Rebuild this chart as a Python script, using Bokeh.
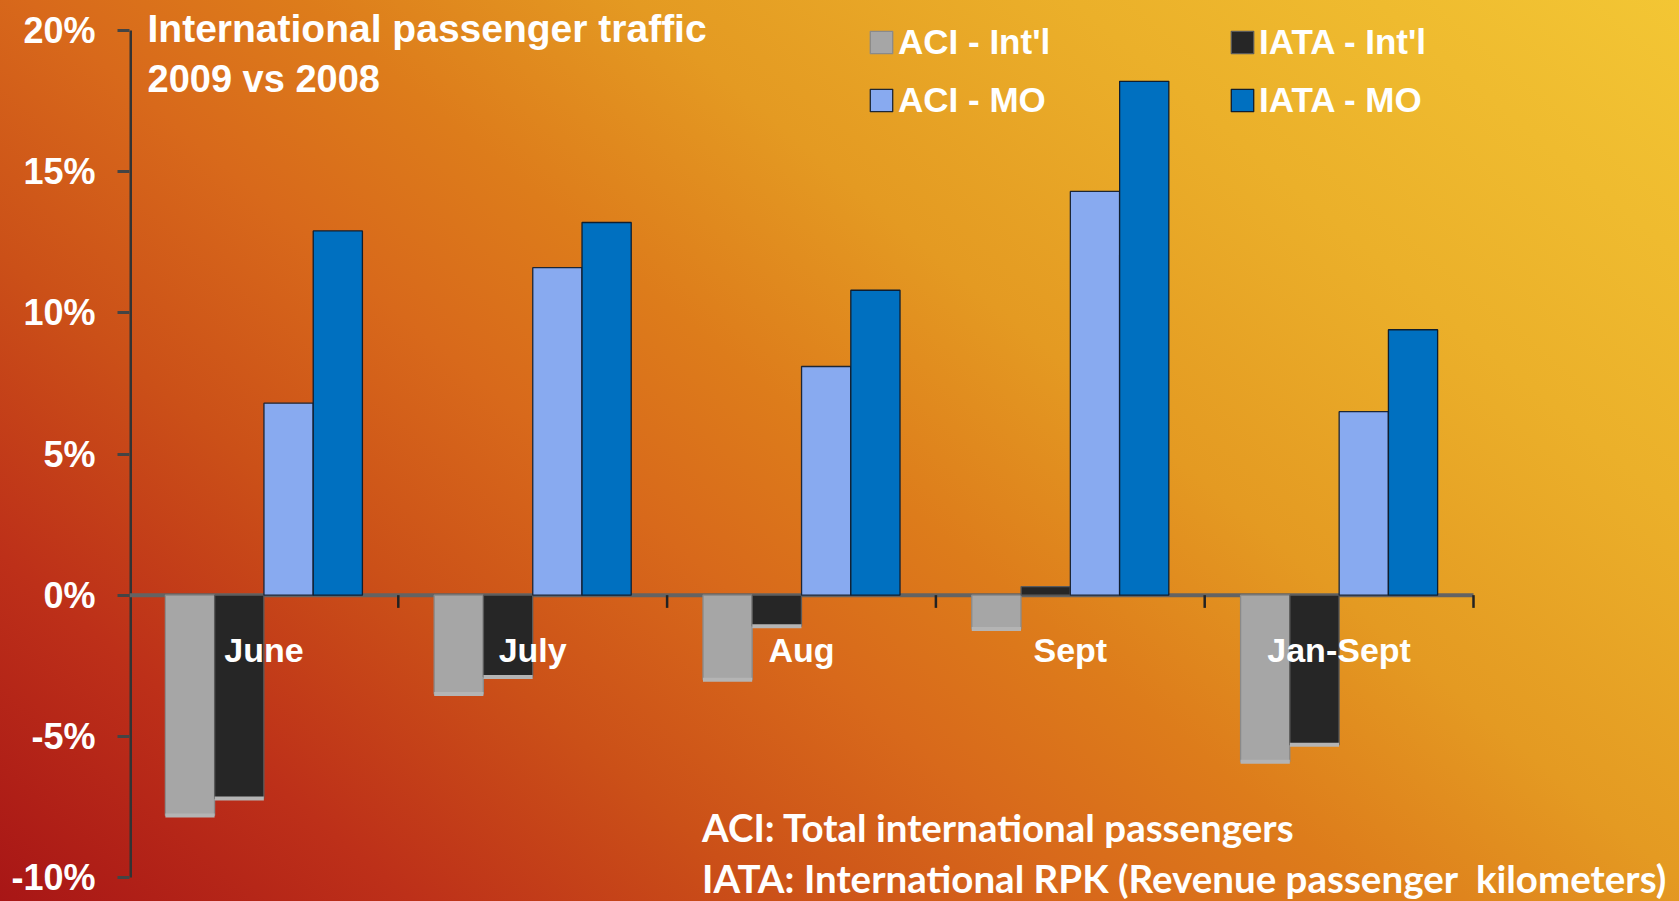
from bokeh.plotting import figure
from bokeh.models import (Range1d, FixedTicker, PrintfTickFormatter,
                          Label, Legend, LegendItem, ColumnDataSource)
from bokeh.core.properties import value
from bokeh.embed import file_html
from bokeh.resources import INLINE

# ---- data ----
categories = ["June", "July", "Aug", "Sept", "Jan-Sept"]
aci_intl = [-7.8, -3.5, -3.0, -1.2, -5.9]
iata_intl = [-7.2, -2.9, -1.1, 0.3, -5.3]
aci_mo = [6.8, 11.6, 8.1, 14.3, 6.5]
iata_mo = [12.9, 13.2, 10.8, 18.2, 9.4]
y_ticks = [-10, -5, 0, 5, 10, 15, 20]
series_names = ["ACI - Int'l", "IATA - Int'l", "ACI - MO", "IATA - MO"]
title_lines = ["International passenger traffic", "2009 vs 2008"]
notes = ["ACI: Total international passengers",
         "IATA: International RPK (Revenue passenger\u00a0 kilometers)"]

# ---- layout (pixels) ----
W, H = 1679, 901
AX_LEFT = 129          # y-axis position
CAT_W = 268.8          # pixels per category
Y_TOP_PX, Y_BOT_PX = 30, 877   # pixel rows of 20% and -10%
Y_MIN, Y_MAX = min(y_ticks), max(y_ticks)
per_px = (Y_MAX - Y_MIN) / (Y_BOT_PX - Y_TOP_PX)
y_lo = Y_MIN - (H - Y_BOT_PX) * per_px
y_hi = Y_MAX + Y_TOP_PX * per_px
x_hi = (W - AX_LEFT) / CAT_W
BOLD_SANS = "Liberation Sans"

n = len(categories)
centers = [i + 0.5 for i in range(n)]

p = figure(width=W, height=H, output_backend="svg", toolbar_location=None,
           x_range=Range1d(0, x_hi), y_range=Range1d(y_lo, y_hi), x_axis_location=None,
           min_border_left=AX_LEFT, min_border_right=0, min_border_top=0,
           min_border_bottom=0)
p.background_fill_alpha = 0
p.border_fill_alpha = 0
p.outline_line_color = None
p.xgrid.grid_line_color = None
p.ygrid.grid_line_color = None
p.styles = {"background-image": "linear-gradient(40deg, #a81616 0%, #bd3019 15%, #cb5018 28%, "
                                "#d8691b 40%, #dd7c1b 50%, #e49a22 62%, #ebb02a 78%, #f3c634 100%)"}

# y axis (ticks + labels from Bokeh; line drawn only over the value span)
ax = p.yaxis[0]
ax.ticker = FixedTicker(ticks=y_ticks)
ax.formatter = PrintfTickFormatter(format="%d%%")
ax.major_label_text_color = "white"
ax.major_label_text_font = BOLD_SANS
ax.major_label_text_font_style = "bold"
ax.major_label_text_font_size = "36px"
ax.major_label_standoff = 22
ax.axis_line_color = None
ax.major_tick_line_color = "#444444"
ax.major_tick_line_width = 3
ax.major_tick_out = 12
ax.major_tick_in = 0
ax.minor_tick_line_color = None
p.segment(x0=[0], y0=[Y_MIN], x1=[0], y1=[Y_MAX], line_color="#333333", line_width=5)

# zero line (x axis)
p.segment(x0=[0], y0=[0], x1=[n], y1=[0], line_color="#636363", line_width=4)

# bars
bw = 0.183
offs = [-0.275, -0.0917, 0.0917, 0.275]
series = [aci_intl, iata_intl, aci_mo, iata_mo]
fills = ["#a6a6a6", "#262626", "#88aaf0", "#0070c0"]
lines = ["#8a8a8a", "#5a5a5a", "#1c2636", "#0f1e30"]
rends = []
for vals, o, f, lc in zip(series, offs, fills, lines):
    src = ColumnDataSource(dict(x=[c + o for c in centers], top=vals))
    r = p.vbar(x="x", top="top", bottom=0, width=bw, source=src,
               fill_color=f, line_color=lc, line_width=1.3)
    rends.append(r)

# lighter bottom edge on negative bars
for vals, o in ((aci_intl, offs[0]), (iata_intl, offs[1])):
    es = ColumnDataSource(dict(x=[c + o for c, v in zip(centers, vals) if v < 0],
                               y=[v for v in vals if v < 0]))
    p.rect(x="x", y="y", width=bw, height=4, height_units="screen",
           source=es, fill_color="#b4b4b4", line_color=None)

# category tick marks (at boundaries)
bounds = [i + 1 for i in range(n)]
p.segment(x0=bounds, y0=[0] * n, x1=bounds, y1=[-0.45] * n,
          line_color="#222222", line_width=2.5)

# category labels
p.text(x=centers, y=[-1.95] * n, text=categories,
       text_color="white", text_font=value(BOLD_SANS), text_font_style="bold",
       text_font_size="34px", text_align="center", text_baseline="alphabetic")

# title
for t, yy, fs in zip(title_lines, [20.08, 18.28], ["39px", "38px"]):
    p.add_layout(Label(x=0.067, y=yy, text=t, text_color="white", text_font=BOLD_SANS,
                       text_font_style="bold", text_font_size=fs,
                       text_baseline="alphabetic"))

# notes
for t, yy in zip(notes, [-8.22, -10.0]):
    p.add_layout(Label(x=2.13, y=yy, text=t, text_color="white", text_font="Lato",
                       text_font_style="bold", text_font_size="38.5px",
                       text_baseline="alphabetic"))

# legends (two columns)
def make_legend(items, xloc):
    return Legend(items=items, location=(xloc, 781), orientation="vertical",
                  padding=0, margin=0, spacing=18, glyph_width=28, glyph_height=28,
                  label_height=40, label_standoff=3, label_text_color="white",
                  label_text_font=BOLD_SANS, label_text_font_style="bold",
                  label_text_font_size="35px", border_line_color=None,
                  background_fill_alpha=0)

leg1 = make_legend([LegendItem(label=series_names[0], renderers=[rends[0]]),
                    LegendItem(label=series_names[2], renderers=[rends[2]])], 738)
leg2 = make_legend([LegendItem(label=series_names[1], renderers=[rends[1]]),
                    LegendItem(label=series_names[3], renderers=[rends[3]])], 1099)
p.add_layout(leg1)
p.add_layout(leg2)

open("out.html", "w").write(file_html(p, INLINE))
